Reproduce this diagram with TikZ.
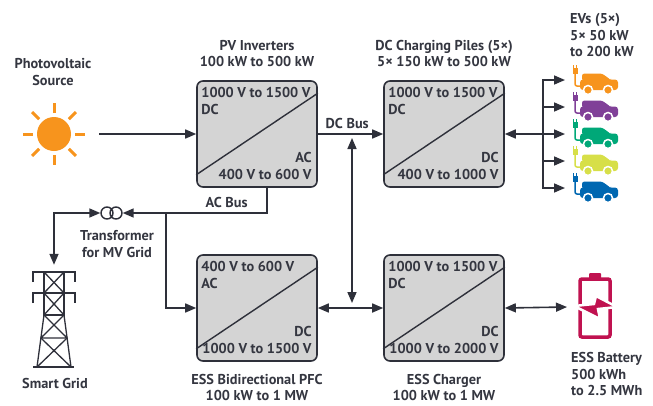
\documentclass[tikz,border=0pt]{standalone}
\usepackage{fontspec}
\setmainfont{PT Sans}
\usetikzlibrary{arrows.meta,positioning}
\definecolor{ink}{RGB}{46,48,58}
\definecolor{txt}{RGB}{52,54,64}
\definecolor{boxgray}{RGB}{212,212,212}
\definecolor{sunorange}{RGB}{247,148,29}
\definecolor{evpurple}{RGB}{128,64,152}
\definecolor{evgreen}{RGB}{0,168,120}
\definecolor{evyellow}{RGB}{215,223,72}
\definecolor{evblue}{RGB}{0,103,177}
\definecolor{battred}{RGB}{192,18,80}
\tikzset{
  conv/.style={draw=ink, line width=1.6pt, fill=boxgray, rounded corners=6pt, minimum width=120pt, minimum height=106pt, inner sep=0pt},
  lbl/.style={font=\bfseries\fontsize{14.3}{16.5}\selectfont, text=txt, inner sep=0pt, align=center},
  wire/.style={draw=ink, line width=1.6pt},
  tip/.style={-{Triangle[length=11pt,width=9pt]}},
  tips/.style={{Triangle[length=11pt,width=9pt]}-{Triangle[length=11pt,width=9pt]}},
}

\begin{document}
\begin{tikzpicture}[x=1pt, y=-1pt]
    \useasboundingbox (0,0) rectangle (653,405);

    \node[lbl] (pvlbl) at (53,72) {Photovoltaic\\Source};
    \node[circle, fill=sunorange, minimum size=34pt, inner sep=0pt] (sun) at (54,134) {};
    \foreach \a in {0,45,...,315}
        \draw[sunorange, line width=3pt] (sun.center) ++(\a:21) -- ++(\a:10);

    \node[conv] (pvinv) at (257,134) {};
    \node[conv] (dcpile) at (444,134) {};
    \node[conv] (pfc) at (257,308) {};
    \node[conv] (charger) at (444,308) {};
    \foreach \b in {pvinv, dcpile, pfc, charger}
        \draw[ink, line width=1.4pt] ([yshift=13pt]\b.south west) -- ([yshift=-13pt]\b.north east);

    \node[lbl, anchor=north west, align=left] at ([xshift=5pt,yshift=-7pt]pvinv.north west) {1000 V to 1500 V\\DC};
    \node[lbl, anchor=south east, align=right] at ([xshift=-6pt,yshift=8pt]pvinv.south east) {AC\\400 V to 600 V};
    \node[lbl, anchor=north west, align=left] at ([xshift=5pt,yshift=-7pt]dcpile.north west) {1000 V to 1500 V\\DC};
    \node[lbl, anchor=south east, align=right] at ([xshift=-6pt,yshift=8pt]dcpile.south east) {DC\\400 V to 1000 V};
    \node[lbl, anchor=north west, align=left] at ([xshift=5pt,yshift=-7pt]pfc.north west) {400 V to 600 V\\AC};
    \node[lbl, anchor=south east, align=right] at ([xshift=-6pt,yshift=8pt]pfc.south east) {DC\\1000 V to 1500 V};
    \node[lbl, anchor=north west, align=left] at ([xshift=5pt,yshift=-7pt]charger.north west) {1000 V to 1500 V\\DC};
    \node[lbl, anchor=south east, align=right] at ([xshift=-6pt,yshift=8pt]charger.south east) {DC\\1000 V to 2000 V};

    \node[lbl, above=13pt of pvinv] (pvtitle) {PV Inverters\\100 kW to 500 kW};
    \node[lbl, above=13pt of dcpile] (dctitle) {DC Charging Piles (5×)\\5× 150 kW to 500 kW};
    \node[lbl, below=12pt of pfc] (pfctitle) {ESS Bidirectional PFC\\100 kW to 1 MW};
    \node[lbl, below=12pt of charger] (chtitle) {ESS Charger\\100 kW to 1 MW};

    \coordinate (dcbus) at (352,134);
    \coordinate (essbus) at (352,308);
    \coordinate (acbus) at (166,213);
    \coordinate (evbus) at (543,134);
    \coordinate (battery) at (595,307);

    \draw[wire, tip] ([xshift=28pt]sun.east) -- (pvinv.west);
    \draw[wire, tip] (pvinv.east) -- node[lbl, above=5pt, pos=0.45] {DC Bus} (dcpile.west);
    \draw[wire, tips] ([yshift=-4pt]dcbus) -- ([yshift=5pt]essbus);
    \draw[wire, tips] (pfc.east) -- (charger.west);
    \draw[wire, tips] (charger.east) -- ([xshift=-28pt]battery);
    \draw[wire, tip] (evbus) -- (dcpile.east);

    \node[inner sep=0pt, minimum width=22pt, minimum height=12pt] (xfmr) at (111.5,213) {};
    \draw[ink, line width=1.4pt] (107,213) circle (6) (116,213) circle (6);
    \node[lbl] (xfmrlbl) at (117,244) {Transformer\\for MV Grid};

    \draw[wire, tip] ([xshift=10pt]pvinv.south) |- node[lbl, above=5pt, pos=0.64] {AC Bus} (xfmr.east);
    \draw[wire, tip] (acbus) |- (pfc.west);

    \node[minimum width=44pt, minimum height=102pt, inner sep=0pt] (tower) at (54,316) {};
    \draw[wire, tips] (tower.north) |- (xfmr.west);
    \begin{scope}[shift={(tower.center)}, ink, line width=1.3pt]
        \draw (-21,-34) -- (-21,-44) -- (21,-44) -- (21,-34);
        \draw (-21,-13) -- (-21,-23) -- (21,-23) -- (21,-13);
        \draw (-10,-44) rectangle (10,-1);
        \draw (-10,-44) -- (10,-23) (10,-44) -- (-10,-23) (-10,-23) -- (10,-1) (10,-23) -- (-10,-1);
        \draw (-10,-1) -- (-17,51) (10,-1) -- (17,51);
        \draw (-10,-1) -- (13.1,22) (10,-1) -- (-13.1,22) (-13.1,22) -- (13.1,22);
        \draw (-13.1,22) -- (17,51) (13.1,22) -- (-17,51);
        \draw (-21,51) -- (20,51);
    \end{scope}
    \node[lbl] (gridlbl) at (55,383) {Smart Grid};

    \foreach \i/\c in {1/sunorange, 2/evpurple, 3/evgreen, 4/evyellow, 5/evblue} {
        \coordinate (ev\i) at (580,53+27*\i);
        \draw[wire, tip] (evbus) |- ([xshift=-15pt]ev\i);
        \begin{scope}[shift={(ev\i)}]
            \fill[\c, rounded corners=3pt] (0,-0.5) rectangle (38,10);
            \fill[\c, rounded corners=2.5pt] (2,1) -- (2,-6.5) -- (22,-6.5) -- (31,0) -- (31,1) -- cycle;
            \filldraw[fill=\c, draw=white, line width=1.5pt] (8,10) circle (4.5) (28,10) circle (4.5);
            \fill[\c] (-7.5,-12) rectangle (-2.5,-6.5);
            \draw[\c, line width=1.2pt] (-6.5,-12) -- (-6.5,-15.5) (-3.5,-12) -- (-3.5,-15.5);
            \draw[\c, line width=1.5pt, rounded corners=2pt] (-5,-7) -- (-5,6) -- (1,6);
        \end{scope}
    }
    \node[lbl, anchor=west, align=left] (evlbl) at (570,35.5) {EVs (5×)\\5× 50 kW\\to 200 kW};

    \begin{scope}[shift={(battery)}]
        \draw[battred, line width=3.5pt, rounded corners=2pt] (-15,-28) rectangle (15,30);
        \fill[battred, rounded corners=1pt] (-6,-34) rectangle (6,-28);
        \filldraw[fill=battred, draw=white, line width=2.5pt, line join=miter] (-21,-1) -- (-1,-3) -- (1,-11) -- (22,0) -- (3,2) -- (5,12) -- cycle;
    \end{scope}
    \node[lbl, anchor=west, align=left] (battlbl) at (571,374) {ESS Battery\\500 kWh\\to 2.5 MWh};
\end{tikzpicture}
\end{document}
